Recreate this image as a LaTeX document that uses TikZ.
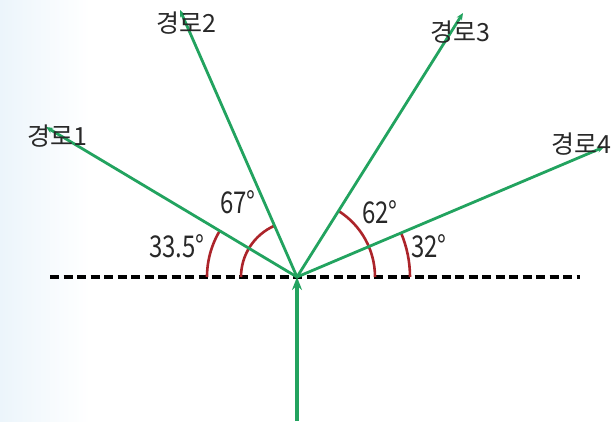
\documentclass[tikz,border=0pt]{standalone}
\usepackage{fontspec}
\setmainfont{Noto Sans CJK KR}
\newfontfamily\anglefont{Noto Sans CJK KR}[FakeStretch=0.8]
\usetikzlibrary{arrows.meta,angles}
\definecolor{raygreen}{RGB}{34,163,95}
\definecolor{arcred}{RGB}{172,36,42}
\definecolor{labelgray}{RGB}{40,40,40}
\definecolor{edgeblue}{RGB}{236,245,251}
\begin{document}
\begin{tikzpicture}[x=1pt,y=1pt,>={Stealth[length=7pt,width=6pt]},
  ray/.style={->, raygreen, line width=2.8pt},
  pathlabel/.style={font=\fontsize{25}{25}\selectfont, text=labelgray, inner sep=0pt},
  anglelabel/.style={font=\anglefont\fontsize{30}{30}\selectfont, text=labelgray, inner sep=0pt},
  anglearc/.style={draw=arcred, line width=2.6pt}]
  \useasboundingbox (0,0) rectangle (611,421);
  % background
  \shade[left color=edgeblue, right color=white] (0,0) rectangle (90,421);
  \fill[white] (90,0) rectangle (611,421);

  % points
  \coordinate (O) at (297,144);
  \coordinate (L) at (50,144);
  \coordinate (R) at (580,144);
  \coordinate (S) at (297,0);
  \coordinate (p1) at (46,294);
  \coordinate (p2) at (180,411);
  \coordinate (p3) at (463,408);
  \coordinate (p4) at (604,274);

  % boundary
  \draw[black, line width=3.2pt, dash pattern=on 9pt off 4.5pt] (L) -- (R);

  % angles
  \pic[anglearc, angle radius=90pt] {angle = p1--O--L};
  \pic[anglearc, angle radius=56pt] {angle = p2--O--L};
  \pic[anglearc, angle radius=78pt] {angle = R--O--p3};
  \pic[anglearc, angle radius=113pt] {angle = R--O--p4};

  % rays
  \draw[->, raygreen, line width=3.6pt, >={Stealth[length=13pt,width=10pt]}] (S) -- (O);
  \draw[ray] (O) -- (p1);
  \draw[ray] (O) -- (p2);
  \draw[ray] (O) -- (p3);
  \draw[ray] (O) -- (p4);

  % labels
  \node[pathlabel] (k1) at (57,285) {경로1};
  \node[pathlabel] (k2) at (186,398) {경로2};
  \node[pathlabel] (k3) at (460,389) {경로3};
  \node[pathlabel] (k4) at (581,277) {경로4};
  \node[anglelabel] (a1) at (177,175) {33.5°};
  \node[anglelabel] (a2) at (238,219) {67°};
  \node[anglelabel] (a3) at (380,209) {62°};
  \node[anglelabel] (a4) at (429,175) {32°};
\end{tikzpicture}
\end{document}
